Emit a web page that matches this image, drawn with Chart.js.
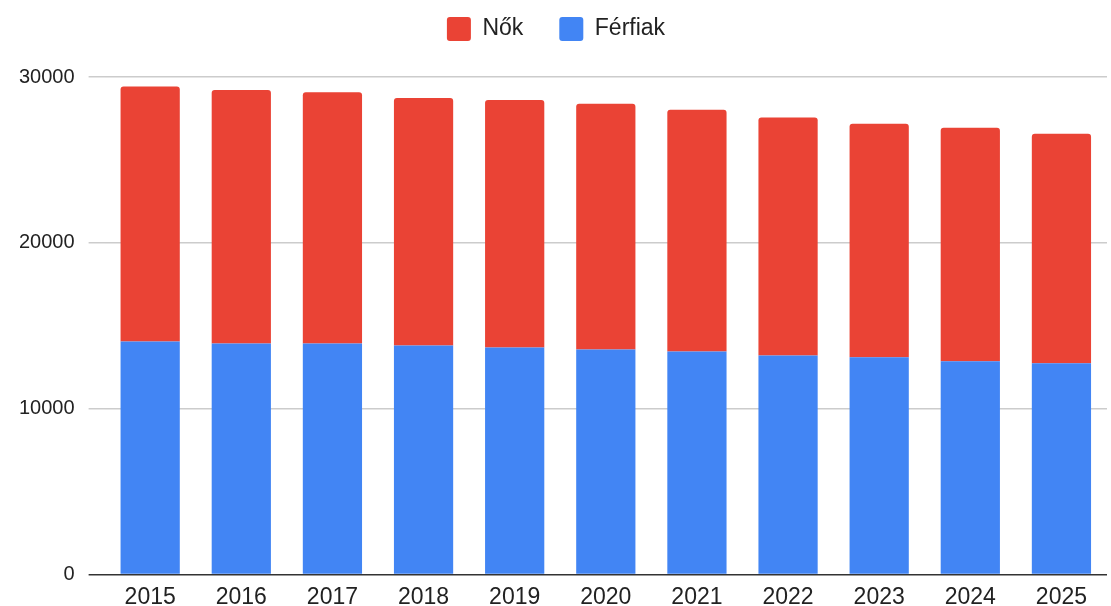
<!DOCTYPE html>
<html>
<head>
<meta charset="utf-8">
<script src="https://cdn.jsdelivr.net/npm/chart.js@4.4.1/dist/chart.umd.min.js"></script>
<style>
    html, body { margin: 0; padding: 0; background: #fff; }
    #wrap { width: 1111px; height: 606px; position: relative; }
</style>
</head>
<body>
<div id="wrap"><canvas id="populationChart"></canvas></div>
<script>
// Years on the x axis
const years = ['2015', '2016', '2017', '2018', '2019', '2020', '2021', '2022', '2023', '2024', '2025'];

// Stacked values
const ferfiak = [14050, 13930, 13930, 13810, 13690, 13570, 13450, 13210, 13090, 12850, 12730];
const nok = [15380, 15290, 15150, 14930, 14930, 14810, 14570, 14340, 14090, 14090, 13850];

// Y axis ticks
const yTicks = [0, 10000, 20000, 30000];

const fontFamily = "'Liberation Sans', Arial, sans-serif";

// Extra room under the legend
const legendSpacer = {
    id: 'legendSpacer',
    beforeInit(chart) {
        const origFit = chart.legend.fit;
        chart.legend.fit = function () {
            origFit.bind(chart.legend)();
            this.height += 26;
        };
    }
};

const ctx = document.getElementById('populationChart').getContext('2d');
const populationChart = new Chart(ctx, {
    type: 'bar',
    data: {
        labels: years,
        datasets: [{
            label: 'Férfiak',
            data: ferfiak,
            backgroundColor: '#4285F4',
            borderRadius: 0,
            barPercentage: 0.65,
            categoryPercentage: 1
        }, {
            label: 'Nők',
            data: nok,
            backgroundColor: '#EA4335',
            borderRadius: { topLeft: 3, topRight: 3, bottomLeft: 0, bottomRight: 0 },
            borderSkipped: false,
            barPercentage: 0.65,
            categoryPercentage: 1
        }]
    },
    options: {
        responsive: true,
        maintainAspectRatio: false,
        animation: false,
        layout: {
            padding: { left: 5, right: 4, top: -19, bottom: -6 }
        },
        plugins: {
            legend: {
                position: 'top',
                reverse: true,
                labels: {
                    font: { family: fontFamily, size: 23 },
                    color: '#222',
                    boxWidth: 24,
                    boxHeight: 24,
                    padding: 36,
                    useBorderRadius: true,
                    borderRadius: 3
                }
            },
            tooltip: { enabled: false }
        },
        scales: {
            x: {
                stacked: true,
                grid: { display: false },
                border: { display: false },
                ticks: {
                    font: { family: fontFamily, size: 23 },
                    color: '#222',
                    padding: 1
                }
            },
            y: {
                stacked: true,
                min: 0,
                max: 30000,
                afterBuildTicks: function (axis) {
                    axis.ticks = yTicks.map(v => ({ value: v }));
                },
                border: { display: false },
                grid: {
                    color: c => (c.tick && c.tick.value === 0) ? '#333' : '#ccc',
                    lineWidth: 1.5,
                    tickLength: 16
                },
                ticks: {
                    font: { family: fontFamily, size: 20 },
                    color: '#222',
                    padding: 14,
                    callback: v => String(v)
                }
            }
        }
    },
    plugins: [legendSpacer]
});
</script>
</body>
</html>
